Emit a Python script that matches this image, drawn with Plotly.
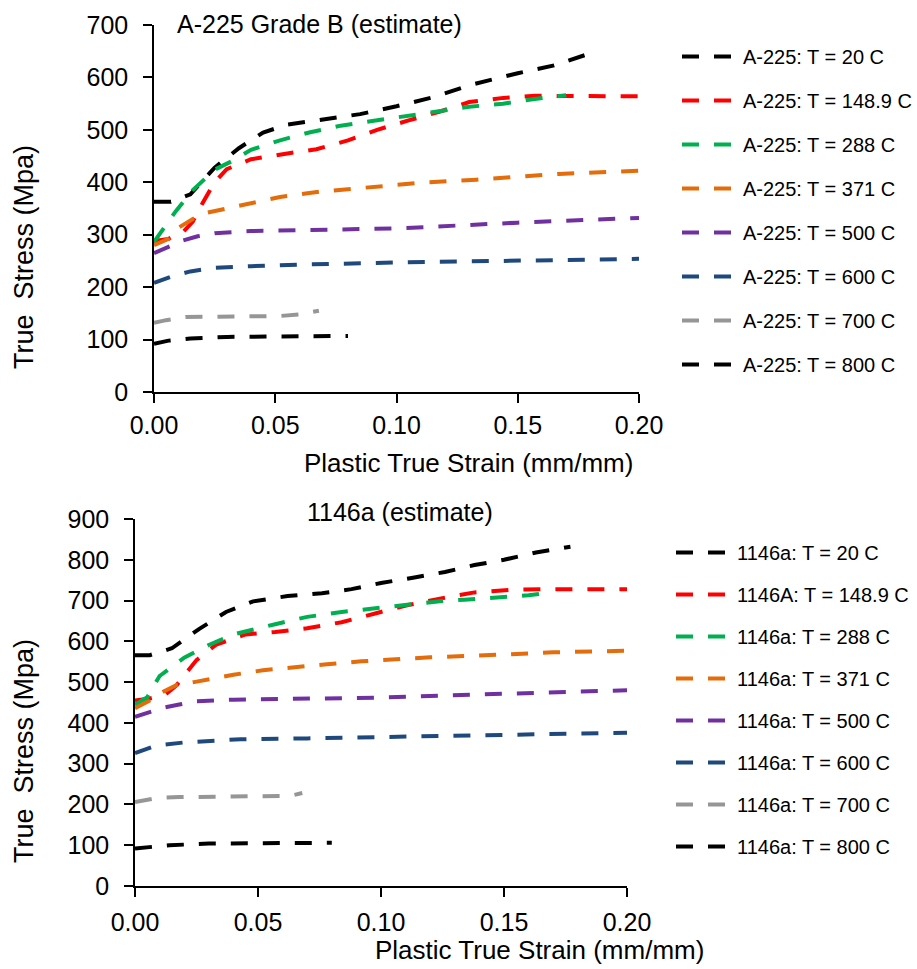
import plotly.graph_objects as go

# ---------------- data: A-225 Grade B (top) ----------------
a225_labels = ["A-225: T = 20 C", "A-225: T = 148.9 C", "A-225: T = 288 C", "A-225: T = 371 C",
               "A-225: T = 500 C", "A-225: T = 600 C", "A-225: T = 700 C", "A-225: T = 800 C"]

a225_20_x = [0, 0.007, 0.015, 0.025, 0.035, 0.045, 0.055, 0.07, 0.085, 0.1, 0.115, 0.13, 0.15, 0.165, 0.178]
a225_20_y = [363, 363, 377, 428, 465, 495, 510, 520, 530, 545, 562, 585, 608, 623, 643]

a225_149_x = [0, 0.006, 0.012, 0.016, 0.02, 0.025, 0.03, 0.04, 0.055, 0.067, 0.08, 0.092, 0.105, 0.118, 0.13, 0.144, 0.157, 0.2]
a225_149_y = [288, 292, 305, 325, 360, 400, 425, 444, 455, 463, 480, 500, 518, 535, 553, 561, 565, 564]

a225_288_x = [0, 0.003, 0.009, 0.016, 0.025, 0.032, 0.04, 0.052, 0.064, 0.077, 0.09, 0.103, 0.117, 0.13, 0.144, 0.157, 0.17]
a225_288_y = [286, 305, 345, 385, 424, 440, 462, 480, 495, 508, 517, 527, 535, 544, 550, 559, 566]

a225_371_x = [0, 0.006, 0.01, 0.016, 0.022, 0.03, 0.04, 0.052, 0.068, 0.087, 0.11, 0.133, 0.147, 0.167, 0.2]
a225_371_y = [280, 292, 313, 330, 342, 350, 360, 372, 382, 390, 399, 405, 410, 416, 422]

a225_500_x = [0, 0.006, 0.012, 0.018, 0.025, 0.04, 0.07, 0.1, 0.15, 0.2]
a225_500_y = [265, 277, 289, 297, 303, 307, 309, 312, 323, 332]

a225_600_x = [0, 0.007, 0.015, 0.025, 0.04, 0.06, 0.1, 0.15, 0.2]
a225_600_y = [208, 220, 230, 237, 240, 243, 247, 251, 254]

a225_700_x = [0, 0.005, 0.013, 0.03, 0.052, 0.06, 0.068]
a225_700_y = [132, 137, 143, 144, 145, 148, 155]

a225_800_x = [0, 0.006, 0.015, 0.03, 0.05, 0.08]
a225_800_y = [92, 98, 102, 105, 106, 107]

# ---------------- data: 1146a (bottom) ----------------
s1146_labels = ["1146a: T = 20 C", "1146A: T = 148.9 C", "1146a: T = 288 C", "1146a: T = 371 C",
                "1146a: T = 500 C", "1146a: T = 600 C", "1146a: T = 700 C", "1146a: T = 800 C"]

s1146_20_x = [0, 0.006, 0.015, 0.026, 0.037, 0.048, 0.062, 0.076, 0.088, 0.1, 0.113, 0.126, 0.138, 0.15, 0.163, 0.177]
s1146_20_y = [566, 566, 583, 630, 672, 698, 711, 718, 728, 743, 756, 770, 787, 800, 818, 832]

s1146_149_x = [0, 0.006, 0.012, 0.017, 0.025, 0.033, 0.045, 0.057, 0.07, 0.084, 0.098, 0.111, 0.125, 0.138, 0.152, 0.165, 0.2]
s1146_149_y = [455, 460, 468, 493, 554, 592, 617, 623, 632, 647, 669, 689, 706, 720, 726, 728, 728]

s1146_288_x = [0, 0.005, 0.01, 0.02, 0.03, 0.04, 0.057, 0.07, 0.084, 0.098, 0.111, 0.125, 0.134, 0.148, 0.16, 0.17]
s1146_288_y = [444, 463, 515, 560, 591, 617, 642, 660, 672, 681, 691, 699, 702, 708, 713, 720]

s1146_371_x = [0, 0.006, 0.011, 0.017, 0.024, 0.04, 0.052, 0.065, 0.078, 0.092, 0.106, 0.12, 0.135, 0.15, 0.17, 0.2]
s1146_371_y = [436, 455, 475, 493, 500, 518, 529, 537, 544, 551, 557, 561, 564, 568, 573, 577]

s1146_500_x = [0, 0.006, 0.012, 0.018, 0.025, 0.04, 0.06, 0.1, 0.124, 0.15, 0.2]
s1146_500_y = [415, 426, 438, 445, 453, 457, 458, 462, 467, 471, 480]

s1146_600_x = [0, 0.009, 0.02, 0.028, 0.043, 0.07, 0.1, 0.124, 0.15, 0.2]
s1146_600_y = [326, 345, 352, 355, 360, 362, 365, 368, 371, 376]

s1146_700_x = [0, 0.009, 0.018, 0.04, 0.063, 0.068]
s1146_700_y = [206, 216, 218, 219, 221, 228]

s1146_800_x = [0, 0.014, 0.03, 0.05, 0.067, 0.08]
s1146_800_y = [92, 100, 104, 105, 105, 106]

colors = ["#000000", "#FF0000", "#00B050", "#E46C0A", "#7030A0", "#1F497D", "#969696", "#000000"]

top_series = [(a225_20_x, a225_20_y), (a225_149_x, a225_149_y), (a225_288_x, a225_288_y),
              (a225_371_x, a225_371_y), (a225_500_x, a225_500_y), (a225_600_x, a225_600_y),
              (a225_700_x, a225_700_y), (a225_800_x, a225_800_y)]
bot_series = [(s1146_20_x, s1146_20_y), (s1146_149_x, s1146_149_y), (s1146_288_x, s1146_288_y),
              (s1146_371_x, s1146_371_y), (s1146_500_x, s1146_500_y), (s1146_600_x, s1146_600_y),
              (s1146_700_x, s1146_700_y), (s1146_800_x, s1146_800_y)]

W, H = 917, 969
FONT = "Arial, 'Liberation Sans', sans-serif"
DASH = "17px,15px"

fig = go.Figure()
for i, ((xs, ys), name) in enumerate(zip(top_series, a225_labels)):
    fig.add_trace(go.Scatter(x=xs, y=ys, mode="lines", name=name,
                             line=dict(color=colors[i], width=4, dash=DASH),
                             xaxis="x", yaxis="y", legend="legend", legendgroup="t%d" % i))
for i, ((xs, ys), name) in enumerate(zip(bot_series, s1146_labels)):
    fig.add_trace(go.Scatter(x=xs, y=ys, mode="lines", name=name,
                             line=dict(color=colors[i], width=4, dash=DASH),
                             xaxis="x2", yaxis="y2", legend="legend2", legendgroup="b%d" % i))

def px(x):
    return x / W

def py(y):
    return 1 - y / H

axis_common = dict(showline=True, linecolor="#000000", linewidth=1.5, ticks="outside",
                   ticklen=9, tickwidth=1.5, tickcolor="#000000", showgrid=False, zeroline=False,
                   tickfont=dict(family=FONT, size=25, color="#000000"), mirror=False,
                   automargin=False)

fig.update_layout(
    width=W, height=H,
    margin=dict(l=0, r=0, t=0, b=0, autoexpand=False),
    paper_bgcolor="white", plot_bgcolor="white",
    showlegend=True,
    xaxis=dict(domain=[px(154), px(639)], range=[0, 0.2], dtick=0.05, tickformat=".2f",
               anchor="y", ticklabelstandoff=1, **axis_common),
    yaxis=dict(domain=[py(392), py(25)], range=[0, 700], dtick=100,
               anchor="x", ticklabelstandoff=10, **axis_common),
    xaxis2=dict(domain=[px(135), px(627)], range=[0, 0.2], dtick=0.05, tickformat=".2f",
                anchor="y2", ticklabelstandoff=4, **axis_common),
    yaxis2=dict(domain=[py(886), py(519)], range=[0, 900], dtick=100,
                anchor="x2", ticklabelstandoff=10, **axis_common),
    legend=dict(x=px(677), y=py(37), xanchor="left", yanchor="top", itemwidth=56,
                font=dict(family=FONT, size=20, color="#000000"), tracegroupgap=15,
                traceorder="grouped", bgcolor="rgba(0,0,0,0)"),
    legend2=dict(x=px(671), y=py(533), xanchor="left", yanchor="top", itemwidth=56,
                 font=dict(family=FONT, size=20, color="#000000"), tracegroupgap=13,
                 traceorder="grouped", bgcolor="rgba(0,0,0,0)"),
    annotations=[
        dict(text="A-225 Grade B (estimate)", x=px(319), y=py(24), xref="paper", yref="paper",
             showarrow=False, xanchor="center", yanchor="middle",
             font=dict(family=FONT, size=25, color="#000000")),
        dict(text="1146a (estimate)", x=px(400), y=py(512), xref="paper", yref="paper",
             showarrow=False, xanchor="center", yanchor="middle",
             font=dict(family=FONT, size=25, color="#000000")),
        dict(text="Plastic True Strain (mm/mm)", x=px(468), y=py(463), xref="paper", yref="paper",
             showarrow=False, xanchor="center", yanchor="middle",
             font=dict(family=FONT, size=26, color="#000000")),
        dict(text="Plastic True Strain (mm/mm)", x=px(539), y=py(950), xref="paper", yref="paper",
             showarrow=False, xanchor="center", yanchor="middle",
             font=dict(family=FONT, size=26, color="#000000")),
        dict(text="True  Stress (Mpa)", x=px(24), y=py(257), xref="paper", yref="paper",
             showarrow=False, xanchor="center", yanchor="middle", textangle=-90,
             font=dict(family=FONT, size=27, color="#000000")),
        dict(text="True  Stress (Mpa)", x=px(24), y=py(751), xref="paper", yref="paper",
             showarrow=False, xanchor="center", yanchor="middle", textangle=-90,
             font=dict(family=FONT, size=27, color="#000000")),
    ],
)

fig.write_html("out.html", config={"displayModeBar": False},
               post_script="document.body.style.margin='0';")
